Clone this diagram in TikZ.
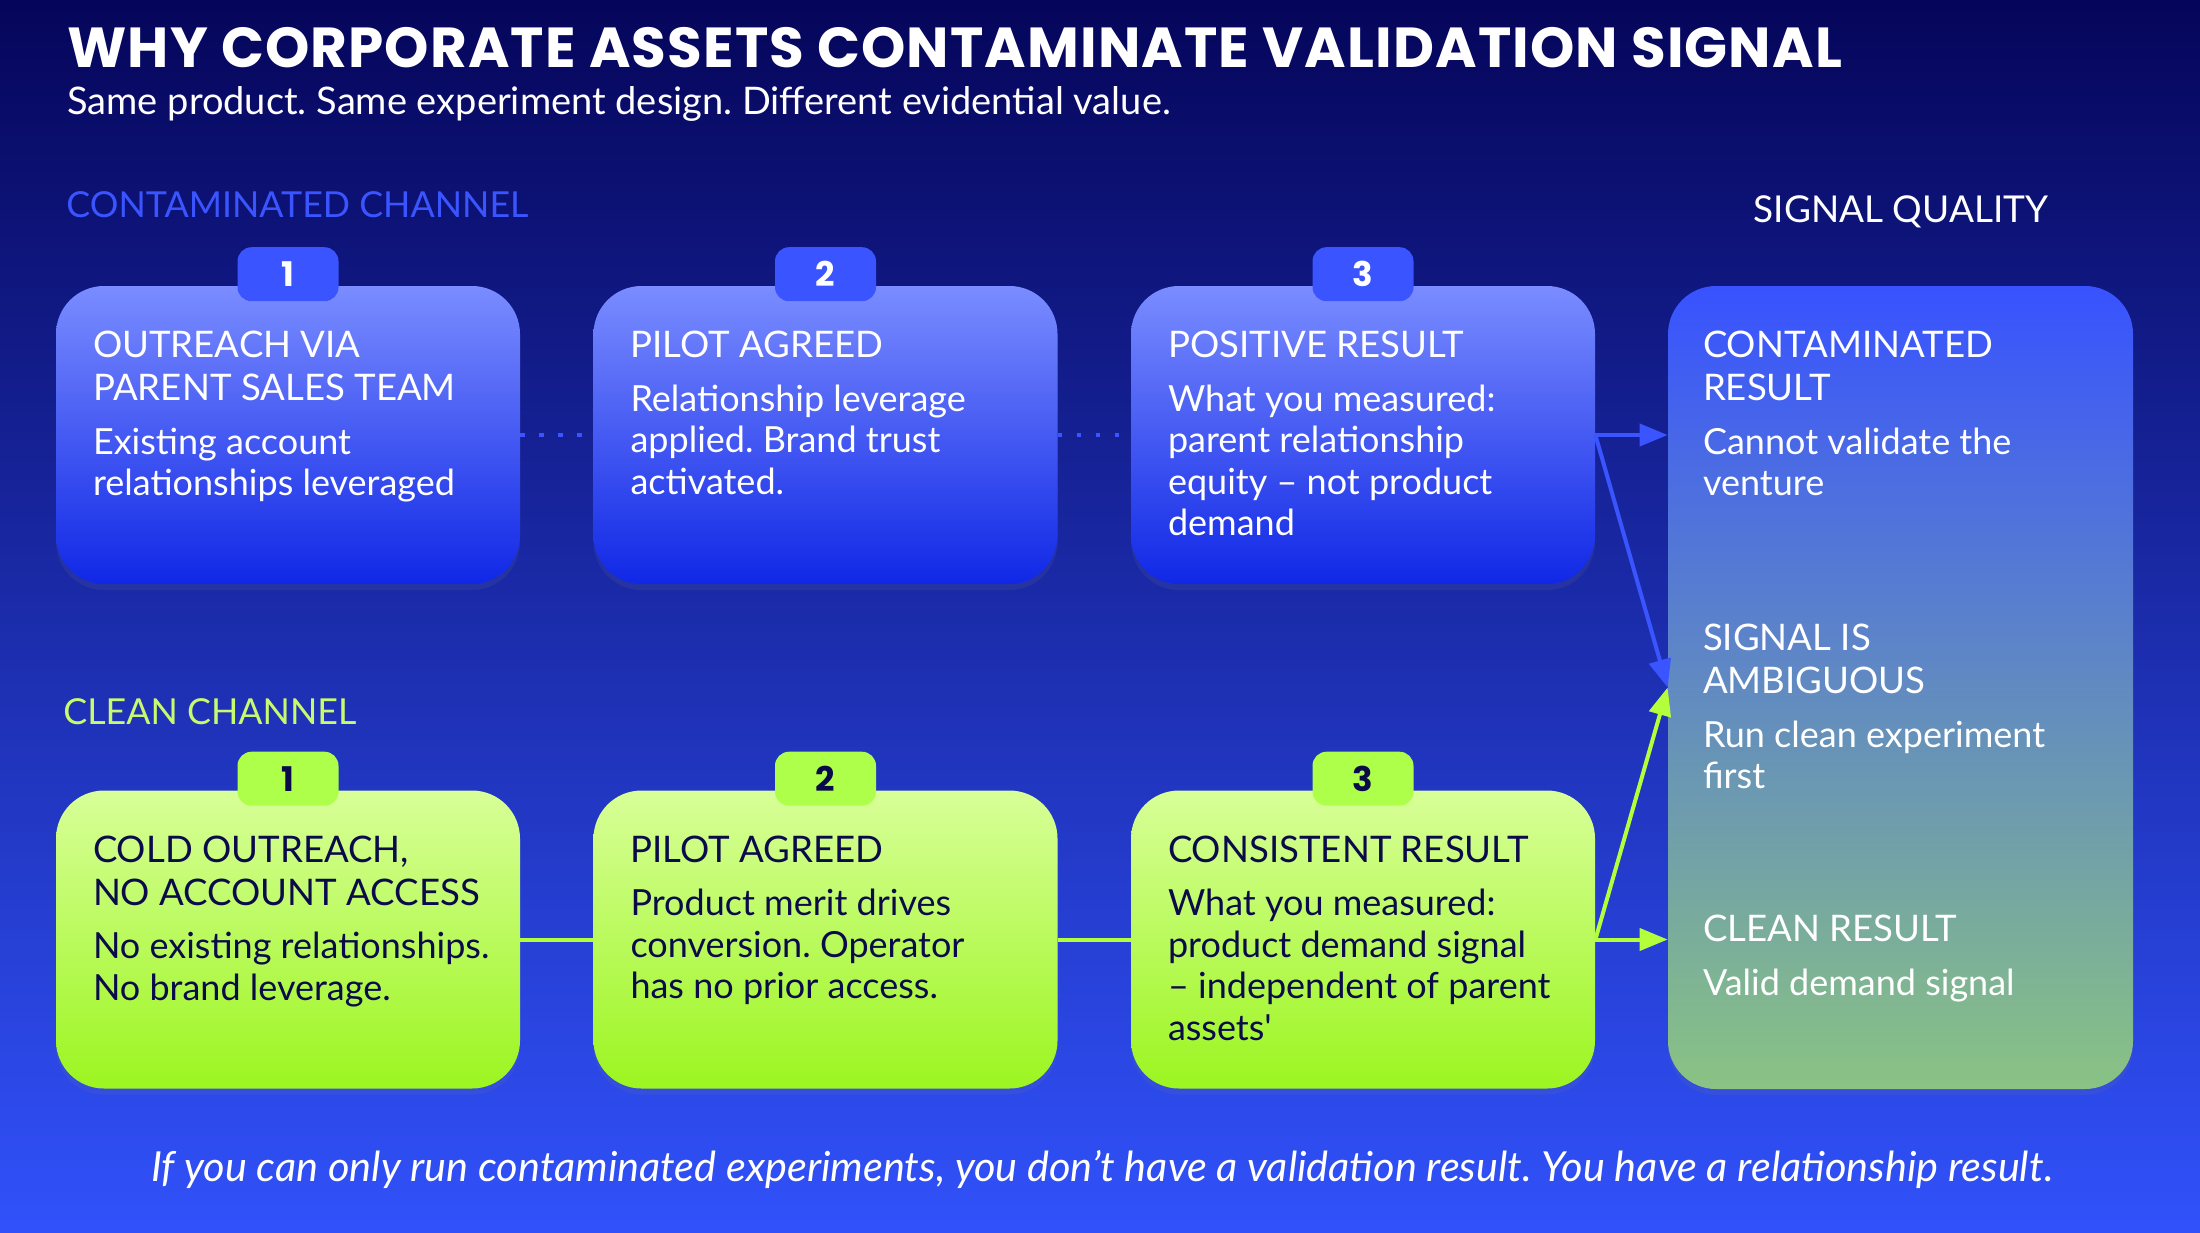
\documentclass[tikz,border=0pt]{standalone}
\usepackage{fontspec}
\setmainfont{Lato}[Ligatures=TeXOff]
\newfontfamily\headfont{Poppins}[LetterSpace=2]
\usetikzlibrary{positioning,arrows.meta,shadows}

\definecolor{bgtop}{HTML}{05055A}
\definecolor{bgbot}{HTML}{3152FB}
\definecolor{cblue}{HTML}{3A55FF}
\definecolor{ctop}{HTML}{7A8CFF}
\definecolor{cbot}{HTML}{1028E6}
\definecolor{glime}{HTML}{B4FF3C}
\definecolor{gtop}{HTML}{D8FF98}
\definecolor{gbot}{HTML}{9CF520}
\definecolor{limebadge}{HTML}{ADFF4A}
\definecolor{limelabel}{HTML}{C8FA6E}
\definecolor{navy}{HTML}{0B0B4A}
\definecolor{stop}{HTML}{3852FF}
\definecolor{smid}{HTML}{5C88B4}
\definecolor{sbot}{HTML}{8AC383}

\begin{document}
\frenchspacing
\begin{tikzpicture}[x=0.5pt,y=-0.5pt,>={Triangle[length=14pt,width=11pt]},
	stepcard/.style={rounded corners=24pt,minimum width=232pt,minimum height=149pt,inner sep=0pt,
		drop shadow={opacity=0.12,shadow xshift=0pt,shadow yshift=-3pt}},
	ccard/.style={stepcard,top color=ctop,bottom color=cbot},
	gcard/.style={stepcard,top color=gtop,bottom color=gbot},
	sigcard/.style={stepcard,minimum width=232.5pt,minimum height=401.5pt,
		top color=stop,middle color=smid,bottom color=sbot},
	cbadge/.style={rounded corners=7pt,minimum width=50.5pt,minimum height=27pt,inner sep=0pt,
		fill=cblue,text=white,font=\headfont\bfseries\fontsize{17}{17}\selectfont},
	gbadge/.style={cbadge,fill=limebadge,text=navy},
	cardhead/.style={align=left,inner sep=0pt,text=white,font=\fontsize{18.3}{21.5}\selectfont},
	cardbody/.style={align=left,inner sep=0pt,text=white,font=\fontsize{18}{20.8}\selectfont},
	dotlink/.style={draw=cblue,line width=2.2pt,dash pattern=on 2.2pt off 7.3pt},
	blink/.style={draw=cblue,line width=2pt},
	glink/.style={draw=glime,line width=2pt}]

	% draw the background
	\shade[top color=bgtop,bottom color=bgbot] (0,0) rectangle (2200,1232);
	\useasboundingbox (0,0) rectangle (2200,1232);

	% draw the headings
	\node[anchor=base west,inner sep=0pt,text=white,font=\headfont\bfseries\fontsize{28.2}{28}\selectfont] (title) at (67,67)
		{WHY CORPORATE ASSETS CONTAMINATE VALIDATION SIGNAL};
	\node[anchor=base west,inner sep=0pt,text=white,font=\fontsize{19}{21}\selectfont] (sub) at (67,114)
		{Same product. Same experiment design. Different evidential value.};
	\node[anchor=base west,inner sep=0pt,text=cblue,font=\fontsize{17.9}{20}\selectfont] (lc) at (66,217) {CONTAMINATED CHANNEL};
	\node[anchor=base west,inner sep=0pt,text=limelabel,font=\fontsize{17.9}{20}\selectfont] (lg) at (63,724) {CLEAN CHANNEL};
	\node[anchor=base,inner sep=0pt,text=white,font=\fontsize{18.5}{20}\selectfont] (lq) at (1901,222) {SIGNAL QUALITY};

	% draw the contaminated channel
	\foreach \n/\x/\head/\body in {
		1/288/{OUTREACH VIA\\PARENT SALES TEAM}/{Existing account\\relationships leveraged},
		2/825.5/{PILOT AGREED}/{Relationship leverage\\applied. Brand trust\\activated.},
		3/1363/{POSITIVE RESULT}/{What you measured:\\parent relationship\\equity – not product\\demand}} {
		\node[ccard] (c\n) at (\x,435) {};
		\node[cbadge,above=-8pt of c\n.north] (cb\n) {\n};
		\node[cardhead,below right=22.5pt and 18.5pt of c\n.north west] (ch\n) {\head};
		\node[cardbody,below right=13pt and 0pt of ch\n.south west] (cx\n) {\body};
	}

	% draw the clean channel
	\foreach \n/\x/\head/\body in {
		1/288/{COLD OUTREACH,\\NO ACCOUNT ACCESS}/{No existing relationships.\\No brand leverage.},
		2/825.5/{PILOT AGREED}/{Product merit drives\\conversion. Operator\\has no prior access.},
		3/1363/{CONSISTENT RESULT}/{What you measured:\\product demand signal\\– independent of parent\\assets'}} {
		\node[gcard] (g\n) at (\x,939.5) {};
		\node[gbadge,above=-8pt of g\n.north] (gb\n) {\n};
		\node[cardhead,text=navy,below right=22.5pt and 18.5pt of g\n.north west] (gh\n) {\head};
		\node[cardbody,text=navy,below right=13pt and 0pt of gh\n.south west] (gx\n) {\body};
	}

	% draw the signal quality card
	\node[sigcard] (s) at (1900.5,687.5) {};
	\foreach \n/\dy/\head/\body in {
		1/22.5/{CONTAMINATED\\RESULT}/{Cannot validate the\\venture},
		2/169/{SIGNAL IS\\AMBIGUOUS}/{Run clean experiment\\first},
		3/314.5/{CLEAN RESULT}/{Valid demand signal}} {
		\node[cardhead,below right=\dy pt and 17.5pt of s.north west] (sh\n) {\head};
		\node[cardbody,below right=13pt and 0pt of sh\n.south west] (sx\n) {\body};
	}

	% links inside each channel
	\foreach \a/\b in {1/2,2/3} {
		\draw[dotlink] (c\a) -- (c\b);
		\draw[glink] (g\a) -- (g\b);
	}

	% arrows into the signal quality card
	\draw[->,blink] (c3) -- (c3 -| s.west);
	\draw[->,blink] (c3.east) -- (s.west);
	\draw[->,glink] (g3) -- (g3 -| s.west);
	\draw[->,glink] (g3.east) -- (s.west);

	% the closing line
	\node[anchor=base,inner sep=0pt,text=white,font=\itshape\fontsize{20.7}{22}\selectfont] (foot) at (1102,1181)
		{If you can only run contaminated experiments, you don’t have a validation result. You have a relationship result.};
\end{tikzpicture}
\end{document}
